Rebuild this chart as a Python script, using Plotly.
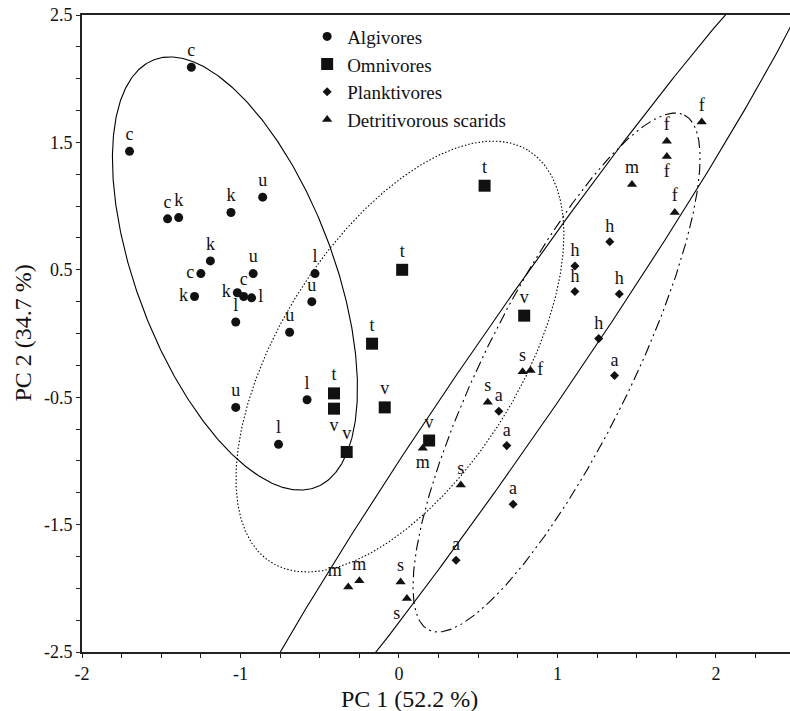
import numpy as np
import plotly.graph_objects as go

FONT = "Liberation Serif"

# ---------------- data ----------------
alg_x = [-1.31, -1.70, -1.46, -1.39, -1.06, -0.86, -1.19, -1.25, -0.92, -0.53,
         -1.29, -1.02, -0.98, -0.93, -0.55, -1.03, -0.69, -1.03, -0.58, -0.76]
alg_y = [2.09, 1.43, 0.90, 0.91, 0.95, 1.07, 0.57, 0.47, 0.47, 0.47,
         0.29, 0.32, 0.29, 0.28, 0.25, 0.09, 0.01, -0.58, -0.52, -0.87]
alg_lab = ["c", "c", "c", "k", "k", "u", "k", "c", "u", "l",
           "k", "k", "c", "l", "u", "l", "u", "u", "l", "l"]

omn_x = [0.54, 0.02, -0.17, -0.41, -0.41, -0.09, -0.33, 0.19, 0.79]
omn_y = [1.16, 0.50, -0.08, -0.47, -0.59, -0.58, -0.93, -0.84, 0.14]
omn_lab = ["t", "t", "t", "t", "v", "v", "v", "v", "v"]

pla_x = [1.33, 1.11, 1.11, 1.39, 1.26, 1.36, 0.63, 0.68, 0.72, 0.36]
pla_y = [0.72, 0.53, 0.33, 0.31, -0.04, -0.33, -0.61, -0.88, -1.34, -1.78]
pla_lab = ["h", "h", "h", "h", "h", "a", "a", "a", "a", "a"]

det_x = [1.91, 1.69, 1.69, 1.47, 1.74, 0.78, 0.83, 0.56, 0.15, 0.39, -0.32, -0.25, 0.01, 0.05]
det_y = [1.66, 1.51, 1.39, 1.17, 0.95, -0.30, -0.29, -0.54, -0.90, -1.19, -1.99, -1.94, -1.95, -2.08]
det_lab = ["f", "f", "f", "m", "f", "s", "f", "s", "m", "s", "m", "m", "s", "s"]

group_names = ["Algivores", "Omnivores", "Planktivores", "Detritivorous scarids"]

x_ticks = [-2, -1, 0, 1, 2]
x_ticktext = ["-2", "-1", "0", "1", "2"]
y_ticks = [2.5, 1.5, 0.5, -0.5, -1.5, -2.5]
y_ticktext = ["2.5", "1.5", "0.5", "-0.5", "-1.5", "-2.5"]

# ellipse parameters (centre, conjugate semi-diameters) in data units
ell_alg = ((-1.035, 0.471), (-0.510, 1.678), (0.581, 0.273))
ell_omn = ((0.006, -0.181), (0.812, 1.616), (0.641, -0.499))
ell_det = ((0.994, -0.306), (0.806, 2.021), (0.413, -0.255))
ell_pla = ((0.719, -0.365), (1.969, 3.564), (0.257, -0.220))

# ---------------- styles ----------------
alg_pos = ["top center"] * 20
alg_pos[7] = "middle left"
alg_pos[10] = "middle left"
alg_pos[11] = "middle left"
alg_pos[13] = "middle right"
omn_pos = ["top center"] * 9
omn_pos[4] = "bottom center"
pla_pos = ["top center"] * 10
det_pos = ["top center"] * 14
det_pos[2] = "bottom center"
det_pos[6] = "middle right"
det_pos[8] = "bottom center"
det_pos[10] = "top left"
det_pos[13] = "bottom left"


def ellipse(p, n=600):
    (cx, cy), (ux, uy), (vx, vy) = p
    t = np.linspace(0, 2 * np.pi, n)
    return cx + ux * np.cos(t) + vx * np.sin(t), cy + uy * np.cos(t) + vy * np.sin(t)


fig = go.Figure()

for p, dash in [(ell_alg, "solid"), (ell_omn, "1.5px,2px"),
                (ell_det, "11px,4px,2px,4px,2px,4px"), (ell_pla, "solid")]:
    ex, ey = ellipse(p)
    fig.add_trace(go.Scatter(x=ex, y=ey, mode="lines", showlegend=False,
                             hoverinfo="skip",
                             line=dict(color="black", width=1.1, dash=dash)))

groups = [
    (alg_x, alg_y, alg_lab, alg_pos, "circle", 9),
    (omn_x, omn_y, omn_lab, omn_pos, "square", 12),
    (pla_x, pla_y, pla_lab, pla_pos, "diamond", 7),
    (det_x, det_y, det_lab, det_pos, "triangle-up", 9),
]

for (gx, gy, gl, gp, sym, sz), name in zip(groups, group_names):
    fig.add_trace(go.Scatter(
        x=gx, y=gy, text=gl, textposition=gp, mode="markers+text",
        name=name, showlegend=False, cliponaxis=False,
        marker=dict(symbol=sym, size=sz, color="#111111", line=dict(width=0)),
        textfont=dict(family=FONT, size=18, color="#111111")))

for (gx, gy, gl, gp, sym, sz), name in zip(groups, group_names):
    fig.add_trace(go.Scatter(
        x=[None], y=[None], mode="markers", name=name,
        marker=dict(symbol=sym, size=sz, color="#111111", line=dict(width=0))))

fig.add_annotation(text="PC 1 (52.2 %)", xref="paper", yref="paper",
                   x=0.463, y=-0.0745, xanchor="center", yanchor="middle",
                   showarrow=False, font=dict(family=FONT, size=24, color="#111111"))
fig.add_annotation(text="PC 2 (34.7 %)", xref="paper", yref="paper",
                   x=-0.0847, y=0.50, xanchor="center", yanchor="middle",
                   textangle=-90, showarrow=False,
                   font=dict(family=FONT, size=24, color="#111111"))

fig.update_layout(
    width=790, height=711,
    margin=dict(l=82, r=0, t=15, b=59, autoexpand=False),
    paper_bgcolor="white", plot_bgcolor="white",
    font=dict(family=FONT, size=18, color="#111111"),
    legend=dict(x=0.318, y=0.996, xanchor="left", yanchor="top",
                bgcolor="rgba(0,0,0,0)", font=dict(family=FONT, size=19, color="#111111"),
                tracegroupgap=0, itemwidth=30),
    xaxis=dict(range=[-2, 2.467], showgrid=False, zeroline=False, automargin=False,
               showline=True, linecolor="#222222", linewidth=2, mirror=True,
               ticks="outside", ticklen=4, tickwidth=1, tickcolor="#222222",
               tickvals=x_ticks, ticktext=x_ticktext, ticklabeloverflow="allow",
               minor=dict(tickvals=list(np.arange(-2, 2.5, 0.25)), ticks="outside",
                          ticklen=4, tickcolor="#222222"),
               tickfont=dict(family=FONT, size=18)),
    yaxis=dict(range=[-2.5, 2.5], showgrid=False, zeroline=False, automargin=False,
               showline=True, linecolor="#222222", linewidth=2, mirror=False,
               ticks="outside", ticklen=4, tickwidth=1, tickcolor="#222222",
               tickvals=y_ticks, ticktext=y_ticktext, ticklabeloverflow="allow",
               minor=dict(tickvals=list(np.arange(-2.5, 2.51, 0.25)), ticks="outside",
                          ticklen=4, tickcolor="#222222"),
               tickfont=dict(family=FONT, size=18)),
)

fig.write_html("out.html", config={"displayModeBar": False},
               post_script="document.body.style.margin='0px';")
